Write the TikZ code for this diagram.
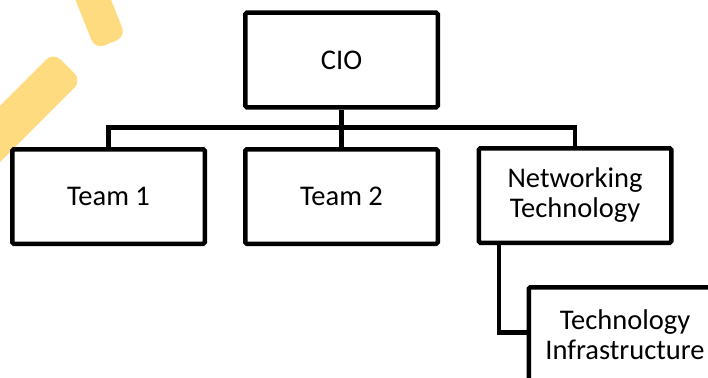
\documentclass[tikz,border=0pt]{standalone}
\usepackage{fontspec}
\setmainfont{Carlito}
\definecolor{hl}{RGB}{255,219,128}
\begin{document}
\begin{tikzpicture}[x=1pt,y=-1pt,
  box/.style={draw=black, line width=4.5pt, fill=white, rounded corners=1.5pt,
    minimum width=192.5pt, minimum height=94.5pt, inner sep=0pt, align=center,
    font=\fontsize{28.5}{30}\selectfont},
  conn/.style={draw=black, line width=4.5pt, line join=miter}]
\useasboundingbox (0,0) rectangle (708,377);
\clip (0,0) rectangle (708,377);
% yellow highlight strokes
\fill[hl, rounded corners=10pt] (96.1,-37.5) -- (125.8,36.7) -- (95.2,49.3) -- (65.5,-24.9) -- cycle;
\fill[hl, rounded corners=10pt] (-25.9,188.1) -- (81.6,80.6) -- (53.4,52.4) -- (-54.1,159.9) -- cycle;
% boxes
\node[box] (cio) at (341.5,60) {CIO};
\node[box] (t1) at (108.5,196.5) {Team 1};
\node[box] (t2) at (341.5,196.5) {Team 2};
\node[box] (net) at (575,195.5) {Networking\\Technology};
\node[box] (tech) at (625,334.5) {Technology\\Infrastructure};
% connectors
\coordinate (bar) at (341.5,127.5);
\coordinate (nt) at (499,332.5);
\draw[conn] (cio.south) -- (t2.north);
\draw[conn] (t1.north) -- (t1.north |- bar) -- (net.north |- bar) -- (net.north);
\draw[conn] (net.south -| nt) -- (nt) -- (tech.west |- nt);
\end{tikzpicture}
\end{document}
